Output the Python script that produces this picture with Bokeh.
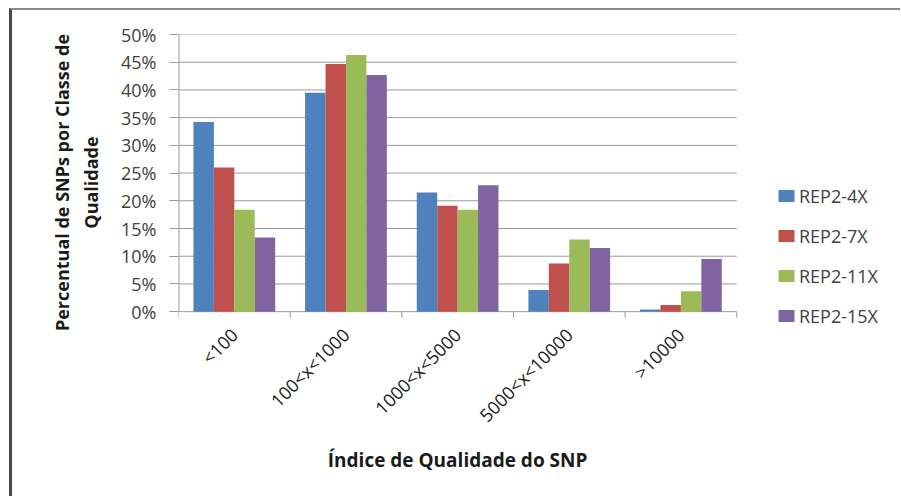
from math import pi

from bokeh.embed import file_html
from bokeh.layouts import column
from bokeh.models import (ColumnDataSource, FixedTicker, InlineStyleSheet, Legend,
                          LegendItem, LinearAxis, NumeralTickFormatter, Range1d)
from bokeh.plotting import figure
from bokeh.resources import INLINE

# Quality classes and the share of SNPs (in %) that fall in each class
categories = ["<100", "100<x<1000", "1000<x<5000", "5000<x<10000", ">10000"]
series_names = ["REP2-4X", "REP2-7X", "REP2-11X", "REP2-15X"]
rep2_4x = [34.2, 39.5, 21.5, 3.9, 0.4]
rep2_7x = [26.0, 44.7, 19.1, 8.7, 1.2]
rep2_11x = [18.4, 46.3, 18.4, 13.0, 3.7]
rep2_15x = [13.4, 42.7, 22.8, 11.5, 9.5]
series_values = [rep2_4x, rep2_7x, rep2_11x, rep2_15x]
colors = ["#4F81BD", "#C0504D", "#9BBB59", "#8064A2"]
y_tick_pct = [0, 5, 10, 15, 20, 25, 30, 35, 40, 45, 50]
x_title = "Índice de Qualidade do SNP"
y_title = "Percentual de SNPs por Classe de\nQualidade"

FONT = "Open Sans"
GRID = "#9a9a9a"
n = len(categories)
y_top = 0.5
y_floor = -0.034      # room under the 0% line for the last legend row
tick_len = 0.011      # category separator ticks below the 0% line

# The frame reaches to the right edge and a little below 0% so the legend
# can sit inside it; the bar area itself covers x in [0, n], y in [0, 0.5].
p = figure(width=888, height=486, output_backend="svg", toolbar_location=None,
           x_range=Range1d(0, n * 1.288), y_range=Range1d(y_floor, y_top),
           min_border_left=166, min_border_right=3,
           min_border_top=24, min_border_bottom=166,
           background_fill_color="white", border_fill_color="white",
           margin=0)
p.outline_line_color = None
p.xgrid.grid_line_color = None
p.ygrid.grid_line_color = None

# horizontal gridlines over the bar area only (the 0% line is the x axis)
yt = [t / 100 for t in y_tick_pct]
p.segment(x0=[0] * len(yt), x1=[n] * len(yt), y0=yt, y1=yt,
          line_color=GRID, line_width=1)
# vertical axis line and the separators between the classes
p.segment(x0=[0], x1=[0], y0=[0], y1=[y_top], line_color=GRID, line_width=2)
bounds = list(range(n + 1))
p.segment(x0=bounds, x1=bounds, y0=[0] * len(bounds),
          y1=[-tick_len] * len(bounds), line_color=GRID, line_width=1)

bar_w = 0.183
offsets = [-1.5 * bar_w, -0.5 * bar_w, 0.5 * bar_w, 1.5 * bar_w]
centers = [i + 0.5 for i in range(n)]

items = []
for name, vals, col, off in zip(series_names, series_values, colors, offsets):
    src = ColumnDataSource(dict(x=[c + off for c in centers],
                                top=[v / 100 for v in vals]))
    r = p.vbar(x="x", top="top", width=bar_w, bottom=0, source=src,
               fill_color=col, line_color=None)
    items.append(LegendItem(label=name, renderers=[r]))

# y axis: percentages every 5%
p.yaxis.ticker = FixedTicker(ticks=yt, minor_ticks=[])
p.yaxis.formatter = NumeralTickFormatter(format="0%")
p.yaxis.major_tick_out = 9
p.yaxis.major_tick_in = 0
p.yaxis.major_tick_line_color = GRID
p.yaxis.axis_line_color = None
p.yaxis.major_label_standoff = 13
p.yaxis.major_label_text_font = FONT
p.yaxis.major_label_text_font_size = "18px"
p.yaxis.major_label_text_color = "#404040"
p.yaxis.axis_label = y_title
p.yaxis.axis_label_text_font = FONT
p.yaxis.axis_label_text_font_size = "18px"
p.yaxis.axis_label_text_font_style = "bold"
p.yaxis.axis_label_text_color = "#1a1a1a"
p.yaxis.axis_label_standoff = 15

# x axis: class names at the group centres
p.xaxis.ticker = FixedTicker(ticks=centers, minor_ticks=[])
p.xaxis.major_label_overrides = {c: lab for c, lab in zip(centers, categories)}
p.xaxis.major_label_orientation = pi / 4
p.xaxis.major_tick_out = 0
p.xaxis.major_tick_in = 0
p.xaxis.minor_tick_out = 0
p.xaxis.minor_tick_in = 0
p.xaxis.axis_line_color = None
p.xaxis.major_label_standoff = 1
p.xaxis.major_label_text_font = FONT
p.xaxis.major_label_text_font_size = "18px"
p.xaxis.major_label_text_color = "#1a1a1a"

# x axis title, centred under the bar area
title_axis = LinearAxis(ticker=FixedTicker(ticks=[n / 2], minor_ticks=[]),
                        major_label_overrides={n / 2: x_title},
                        major_tick_out=0, major_tick_in=0,
                        minor_tick_out=0, minor_tick_in=0,
                        axis_line_color=None, major_label_standoff=8,
                        major_label_text_font=FONT,
                        major_label_text_font_size="19px",
                        major_label_text_font_style="bold",
                        major_label_text_color="#1a1a1a")
p.add_layout(title_axis, "below")

legend = Legend(items=items, location=(598, 2), orientation="vertical",
                glyph_width=20, glyph_height=15, label_height=25, spacing=15,
                padding=0, margin=0, label_standoff=3,
                border_line_color=None, background_fill_alpha=0,
                label_text_font=FONT, label_text_font_size="18px",
                label_text_color="#404040")
p.add_layout(legend)

# chart box: dark left edge and grey top edge around the plot
frame_css = InlineStyleSheet(css=":host { border-left: 3px solid #4a4a4a; "
                                 "border-top: 2px solid #8a8a8a; }")
page = column(p, margin=(8, 0, 0, 9), stylesheets=[frame_css])

open("out.html", "w").write(file_html(page, INLINE))
